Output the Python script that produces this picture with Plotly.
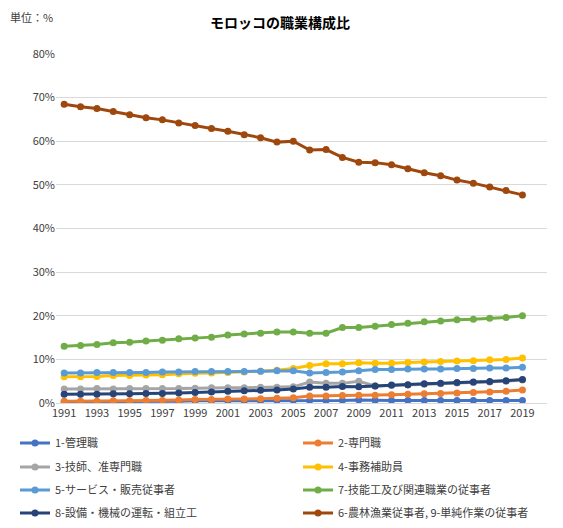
import plotly.graph_objects as go

years = list(range(1991, 2020))

names = [
    "1-管理職",
    "2-専門職",
    "3-技師、准専門職",
    "4-事務補助員",
    "5-サービス・販売従事者",
    "7-技能工及び関連職業の従事者",
    "8-設備・機械の運転・組立工",
    "6-農林漁業従事者, 9-単純作業の従事者",
]

s1 = [0.3, 0.3, 0.3, 0.3, 0.4, 0.4, 0.4, 0.4, 0.5, 0.5, 0.5, 0.5, 0.5, 0.6, 0.6,
      0.6, 0.6, 0.6, 0.7, 0.6, 0.6, 0.6, 0.6, 0.6, 0.6, 0.6, 0.6, 0.6, 0.6]
s2 = [0.4, 0.4, 0.4, 0.5, 0.5, 0.6, 0.6, 0.7, 0.8, 0.8, 0.9, 0.9, 1.0, 1.1, 1.2,
      1.6, 1.6, 1.7, 1.8, 1.8, 1.9, 2.0, 2.1, 2.2, 2.3, 2.4, 2.5, 2.7, 3.0]
s3 = [3.2, 3.2, 3.3, 3.2, 3.3, 3.3, 3.3, 3.3, 3.4, 3.5, 3.5, 3.5, 3.6, 3.6, 3.7,
      4.8, 4.5, 4.5, 5.0, 3.9, 4.0, 4.1, 4.3, 4.4, 4.6, 4.7, 4.8, 5.0, 5.3]
s4 = [6.0, 6.0, 6.1, 6.3, 6.3, 6.4, 6.5, 6.7, 6.8, 6.9, 7.0, 7.1, 7.3, 7.5, 7.9,
      8.6, 9.0, 9.0, 9.2, 9.1, 9.1, 9.3, 9.4, 9.5, 9.6, 9.7, 9.9, 10.0, 10.3]
s5 = [6.9, 6.9, 7.0, 7.0, 7.0, 7.0, 7.1, 7.1, 7.2, 7.2, 7.2, 7.2, 7.3, 7.4, 7.4,
      6.9, 7.0, 7.1, 7.4, 7.7, 7.7, 7.8, 7.8, 7.8, 7.9, 7.9, 8.0, 8.0, 8.2]
s7 = [13.0, 13.2, 13.4, 13.8, 13.9, 14.2, 14.4, 14.7, 14.9, 15.1, 15.6, 15.8, 16.0, 16.3, 16.3,
      16.0, 16.0, 17.3, 17.3, 17.6, 18.0, 18.3, 18.6, 18.8, 19.1, 19.2, 19.4, 19.6, 20.0]
s8 = [2.0, 2.0, 2.0, 2.1, 2.1, 2.2, 2.2, 2.3, 2.4, 2.5, 2.7, 2.8, 2.9, 3.0, 3.2,
      3.6, 3.6, 3.8, 3.7, 3.9, 4.1, 4.2, 4.4, 4.5, 4.7, 4.8, 4.9, 5.1, 5.4]
s69 = [68.5, 67.9, 67.5, 66.8, 66.1, 65.4, 64.9, 64.2, 63.6, 62.9, 62.3, 61.5, 60.8, 59.8, 60.0,
       58.0, 58.1, 56.3, 55.2, 55.1, 54.6, 53.7, 52.8, 52.1, 51.1, 50.4, 49.5, 48.7, 47.7]

series = [s1, s2, s3, s4, s5, s7, s8, s69]
colors = ["#4472C4", "#ED7D31", "#A5A5A5", "#FFC000", "#5B9BD5", "#70AD47", "#264478", "#9E480E"]

FONT = "Noto Sans CJK JP"
OFF = 8  # page body margin
W, H = 563 - OFF, 528 - OFF
row_y = [443 - OFF, 467 - OFF, 490 - OFF, 513 - OFF]
col_x = [7, 290]

fig = go.Figure()
legends = {}
for i, (name, vals, col) in enumerate(zip(names, series, colors)):
    lid = "legend" if i == 0 else f"legend{i + 1}"
    fig.add_trace(go.Scatter(
        x=years, y=vals, name=name, mode="lines+markers",
        line=dict(color=col, width=3),
        marker=dict(color=col, size=7),
        legend=lid, showlegend=True,
    ))
    legends[lid] = dict(
        xref="container", yref="container",
        x=col_x[i % 2] / W, y=1 - row_y[i // 2] / H,
        xanchor="left", yanchor="middle",
        font=dict(family=FONT, size=11, color="#404040"),
        bgcolor="rgba(0,0,0,0)", itemwidth=30,
    )

plot_left, plot_right, plot_top, plot_bottom = 56 - OFF, 547 - OFF, 54 - OFF, 403 - OFF
pw, ph = plot_right - plot_left, plot_bottom - plot_top

fig.update_layout(
    width=W, height=H, showlegend=True,
    margin=dict(l=plot_left, r=W - plot_right, t=plot_top, b=H - plot_bottom, autoexpand=False),
    paper_bgcolor="white", plot_bgcolor="white",
    font=dict(family=FONT, size=11, color="#595959"),
    title=dict(text="<b>モロッコの職業構成比</b>", x=(280 - OFF) / W, xanchor="center",
               xref="container", yref="container", y=1 - (23 - OFF) / H, yanchor="middle",
               font=dict(family=FONT, size=14, color="#000000")),
    xaxis=dict(range=[1990.5, 2020.5], tickvals=list(range(1991, 2020, 2)),
               showgrid=False, showline=True, linecolor="#D9D9D9", linewidth=1,
               ticks="", tickfont=dict(family=FONT, size=11, color="#404040"),
               zeroline=False, automargin=False),
    yaxis=dict(range=[0, 80], dtick=10, ticksuffix="%", showgrid=True,
               gridcolor="#D9D9D9", gridwidth=1, zeroline=False, showline=False,
               tickfont=dict(family=FONT, size=11, color="#404040"), automargin=False),
    annotations=[dict(text="単位：%", xref="paper", yref="paper",
                      x=(8 - OFF - plot_left) / pw, y=(plot_bottom - (17 - OFF)) / ph,
                      xanchor="left", yanchor="middle",
                      showarrow=False, font=dict(family=FONT, size=11, color="#404040"))],
    **legends,
)

fig.write_html("out.html")
